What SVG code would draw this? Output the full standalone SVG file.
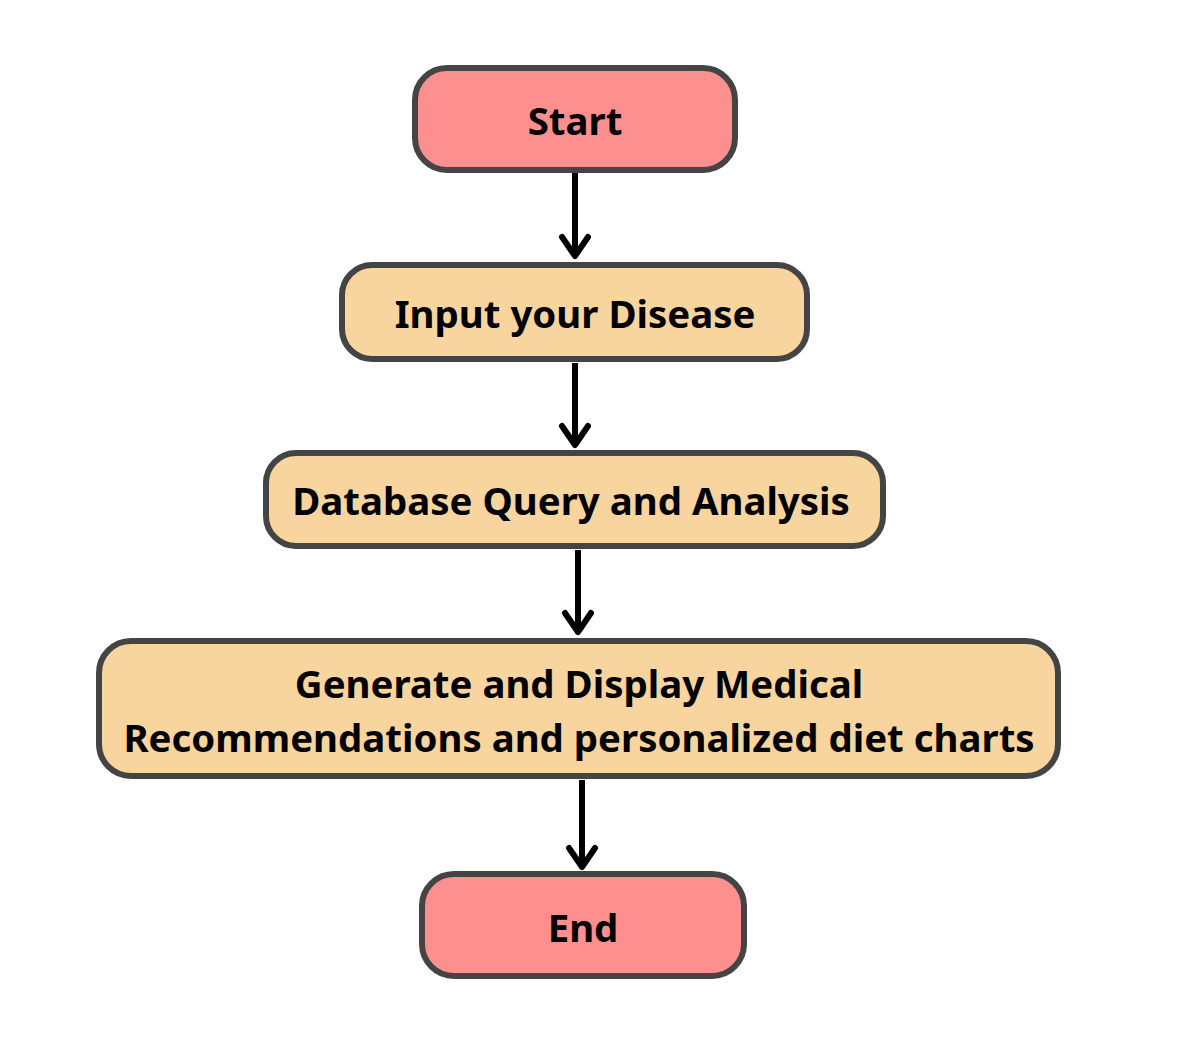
<svg xmlns="http://www.w3.org/2000/svg" width="1186" height="1048" viewBox="0 0 1186 1048">
<style>
.term{fill:#FE8F8F;stroke:#444444;stroke-width:6}
.proc{fill:#F8D49E;stroke:#444444;stroke-width:6}
.lbl{font-family:"Noto Sans","Liberation Sans",sans-serif;font-weight:bold;font-size:38.4px;fill:#000;text-anchor:middle}
.conn{fill:none;stroke:#000;stroke-width:6;stroke-linecap:butt}
</style>
<defs>
<marker id="arr" markerUnits="userSpaceOnUse" viewBox="-26 -18 30 36" refX="0" refY="0" markerWidth="30" markerHeight="36" orient="auto" overflow="visible">
<path d="M-19,-13 L0,0 L-19,13" fill="none" stroke="#000" stroke-width="6" stroke-linecap="round" stroke-linejoin="round"/>
</marker>
</defs>
<rect width="1186" height="1048" fill="#fff"/>
<g id="connectors">
<path class="conn" d="M575,173 L575,256" marker-end="url(#arr)"/>
<path class="conn" d="M575,363 L575,445" marker-end="url(#arr)"/>
<path class="conn" d="M578,550 L578,632" marker-end="url(#arr)"/>
<path class="conn" d="M582,780 L582,867" marker-end="url(#arr)"/>
</g>
<g id="start">
<rect class="term" x="415" y="68" width="320" height="102" rx="32"/>
<text class="lbl" x="575" y="135">Start</text>
</g>
<g id="input">
<rect class="proc" x="342" y="265" width="465" height="94" rx="30"/>
<text class="lbl" x="575" y="328">Input your Disease</text>
</g>
<g id="database">
<rect class="proc" x="266" y="453" width="617" height="93" rx="30"/>
<text class="lbl" x="571" y="515">Database Query and Analysis</text>
</g>
<g id="generate">
<rect class="proc" x="99" y="641" width="959" height="135" rx="32"/>
<text class="lbl" x="579" y="698">Generate and Display Medical</text>
<text class="lbl" x="579" y="752">Recommendations and personalized diet charts</text>
</g>
<g id="end">
<rect class="term" x="422" y="874" width="322" height="102" rx="32"/>
<text class="lbl" x="583" y="942">End</text>
</g>
</svg>
